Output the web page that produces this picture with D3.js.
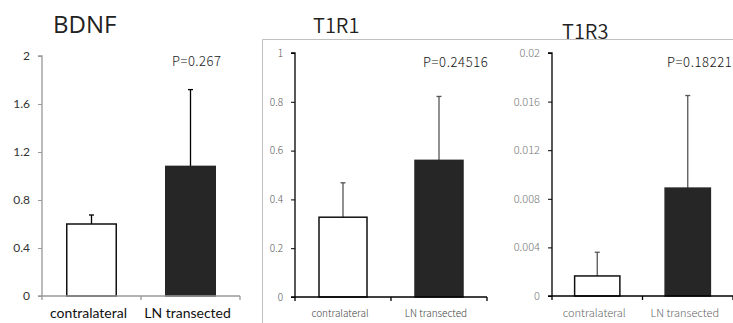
<!DOCTYPE html>
<html>
  <head>
    <meta charset="utf-8" />
    <script src="https://d3js.org/d3.v7.min.js"></script>
    <style>
      body { margin: 0; background: #fff; }
      .frame { stroke: #c0c0c0; fill: none; }
    </style>
  </head>
  <body>
    <svg width="733" height="323"></svg>
    <script type="text/javascript">

    var categories = ["contralateral", "LN transected"];

    var bdnfMeans = [0.6, 1.08];
    var bdnfErrors = [0.075, 0.64];
    var bdnfTicks = [0, 0.4, 0.8, 1.2, 1.6, 2];

    var t1r1Means = [0.327, 0.56];
    var t1r1Errors = [0.141, 0.262];
    var t1r1Ticks = [0, 0.2, 0.4, 0.6, 0.8, 1];

    var t1r3Means = [0.00165, 0.00888];
    var t1r3Errors = [0.00195, 0.00762];
    var t1r3Ticks = [0, 0.004, 0.008, 0.012, 0.016, 0.02];

    var pValues = ["P=0.267", "P=0.24516", "P=0.18221"];

    var svg = d3.select("svg");

    // grey frame from the pasted screenshot
    svg.append("path").attr("class", "frame")
      .attr("d", "M262.5,323 V39.5 H733");

    var cjk = "'Noto Sans CJK JP', sans-serif";

    var panels = [
      { title: "BDNF", means: bdnfMeans, errs: bdnfErrors, ticks: bdnfTicks, p: pValues[0],
        x0: 42, x1: 240, y0: 296, y1: 56, max: 2,
        axisColor: "#999", tickColor: "#333", errColor: "#000", font: "Lato, 'Open Sans', sans-serif", weight: 400,
        tickSize: 12, catSize: 14, catColor: "#111", catY: 318,
        titleX: 53, titleY: 33, titleSize: 24, titleFont: "'Open Sans', Lato, sans-serif", titleWeight: 400,
        pX: 172, pY: 66, pSize: 13, pColor: "#222", pSpacing: 0.5 },
      { title: "T1R1", means: t1r1Means, errs: t1r1Errors, ticks: t1r1Ticks, p: pValues[1],
        x0: 295, x1: 487, y0: 297, y1: 53, max: 1,
        axisColor: "#000", tickColor: "#555", errColor: "#555", font: cjk, weight: 300,
        tickSize: 10, catSize: 10, catColor: "#444", catY: 317,
        titleX: 313, titleY: 33, titleSize: 20, titleFont: cjk, titleWeight: 350,
        pX: 423, pY: 67, pSize: 13, pColor: "#111", pSpacing: 0.6 },
      { title: "T1R3", means: t1r3Means, errs: t1r3Errors, ticks: t1r3Ticks, p: pValues[2],
        x0: 552, x1: 733, y0: 296, y1: 53, max: 0.02,
        axisColor: "#000", tickColor: "#777", errColor: "#555", font: cjk, weight: 300,
        tickSize: 11, catSize: 11, catColor: "#666", catY: 317,
        titleX: 562, titleY: 39, titleSize: 20, titleFont: cjk, titleWeight: 350,
        pX: 667, pY: 67, pSize: 13, pColor: "#111", pSpacing: 0.6 }
    ];

    panels.forEach(drawPanel);

    function drawPanel(cfg) {
      var g = svg.append("g");

      var x = d3.scaleBand().domain(categories).range([cfg.x0, cfg.x1]).padding(0);
      var y = d3.scaleLinear().domain([0, cfg.max]).range([cfg.y0, cfg.y1]);

      var rows = categories.map(function(c, i) {
        return { cat: c, mean: cfg.means[i], err: cfg.errs[i], i: i };
      });

      // error bars (only upward) drawn first so bars cover their base
      var eb = g.selectAll(".err").data(rows).enter().append("g")
        .attr("stroke", cfg.errColor).attr("stroke-width", 1.3);
      eb.append("line")
        .attr("x1", function(d) { return x(d.cat) + x.bandwidth() / 2; })
        .attr("x2", function(d) { return x(d.cat) + x.bandwidth() / 2; })
        .attr("y1", function(d) { return y(d.mean); })
        .attr("y2", function(d) { return y(d.mean + d.err); });
      eb.append("line")
        .attr("x1", function(d) { return x(d.cat) + x.bandwidth() / 2 - 2.5; })
        .attr("x2", function(d) { return x(d.cat) + x.bandwidth() / 2 + 2.5; })
        .attr("y1", function(d) { return y(d.mean + d.err); })
        .attr("y2", function(d) { return y(d.mean + d.err); });

      g.selectAll(".bar").data(rows).enter().append("rect")
        .attr("x", function(d) { return x(d.cat) + x.bandwidth() * 0.25; })
        .attr("width", x.bandwidth() * 0.5)
        .attr("y", function(d) { return y(d.mean); })
        .attr("height", function(d) { return y(0) - y(d.mean); })
        .attr("fill", function(d) { return d.i === 0 ? "#fff" : "#262626"; })
        .attr("stroke", function(d) { return d.i === 0 ? "#111" : "#262626"; })
        .attr("stroke-width", 1.5);

      // y axis
      var yAxis = d3.axisLeft(y).tickValues(cfg.ticks).tickSize(4).tickPadding(8)
        .tickFormat(function(v) { return String(+v.toFixed(4)); });
      var ya = g.append("g").attr("transform", "translate(" + cfg.x0 + ",0)").call(yAxis);
      ya.select(".domain").attr("stroke", cfg.axisColor).attr("stroke-width", 1.3).attr("d", "M-4," + cfg.y1 + "H0V" + cfg.y0);
      ya.selectAll(".tick line").attr("stroke", cfg.axisColor);
      ya.selectAll(".tick text").attr("fill", cfg.tickColor)
        .style("font-family", cfg.font).style("font-weight", cfg.weight).style("font-size", cfg.tickSize + "px");

      // x axis with boundary ticks
      var xa = g.append("g").attr("transform", "translate(0," + cfg.y0 + ")");
      xa.append("line").attr("x1", cfg.x0 - 4).attr("x2", cfg.x1).attr("y1", 0).attr("y2", 0)
        .attr("stroke", cfg.axisColor).attr("stroke-width", 1.3);
      var bounds = categories.map(function(c) { return x(c); }).concat([cfg.x1]);
      xa.selectAll(".xt").data(bounds).enter().append("line")
        .attr("x1", function(d) { return d; }).attr("x2", function(d) { return d; })
        .attr("y1", 0).attr("y2", 4)
        .attr("stroke", cfg.axisColor).attr("stroke-width", 1.3);

      g.selectAll(".cat").data(categories).enter().append("text")
        .attr("x", function(d) { return x(d) + x.bandwidth() / 2 - 3; })
        .attr("y", cfg.catY)
        .attr("text-anchor", "middle")
        .attr("fill", cfg.catColor)
        .style("font-family", cfg.font).style("font-weight", cfg.weight).style("font-size", cfg.catSize + "px")
        .text(function(d) { return d; });

      g.append("text").attr("x", cfg.titleX).attr("y", cfg.titleY)
        .attr("fill", "#222")
        .style("font-family", cfg.titleFont).style("font-weight", cfg.titleWeight).style("font-size", cfg.titleSize + "px")
        .text(cfg.title);

      g.append("text").attr("x", cfg.pX).attr("y", cfg.pY)
        .attr("fill", cfg.pColor)
        .style("font-family", cjk).style("font-weight", 300).style("font-size", cfg.pSize + "px")
        .style("letter-spacing", cfg.pSpacing + "px")
        .text(cfg.p);
    }

    </script>
  </body>
</html>
